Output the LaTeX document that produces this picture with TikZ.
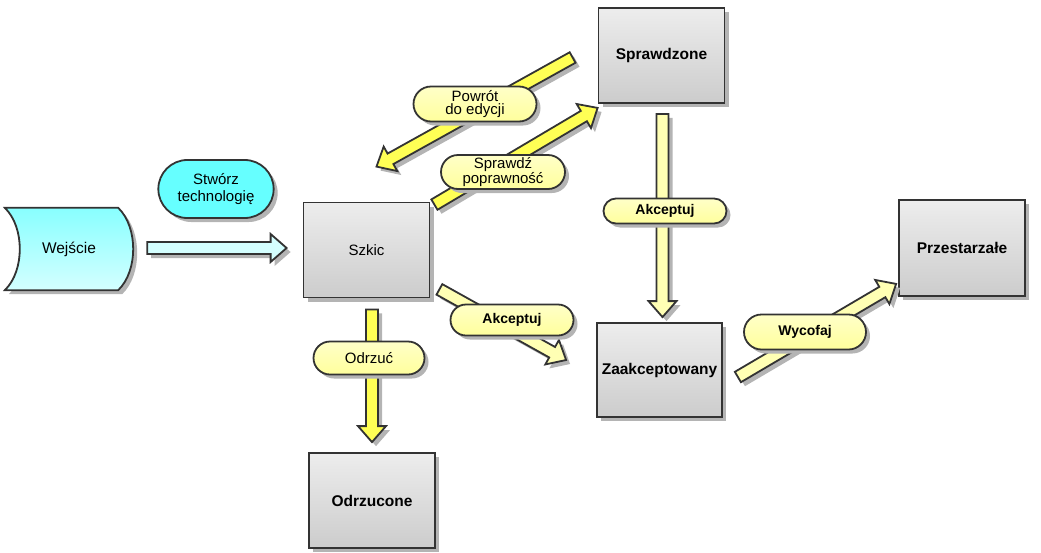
\documentclass[tikz,border=0pt]{standalone}
\usepackage{fontspec}
\setmainfont{Liberation Sans}
\usetikzlibrary{calc,shapes.misc,shadows}
\definecolor{EdgeGray}{HTML}{333333}
\definecolor{BoxTop}{HTML}{EDEDED}
\definecolor{BoxBot}{HTML}{CCCCCC}
\definecolor{CyanTop}{HTML}{88FFFF}
\definecolor{CyanBot}{HTML}{D4FFFF}
\definecolor{CyanPill}{HTML}{66FFFF}
\definecolor{LabelTop}{HTML}{FFFFC8}
\definecolor{LabelBot}{HTML}{FFFF9C}
\definecolor{ArrowBright}{HTML}{FFFF55}
\definecolor{ArrowPale}{HTML}{FFFFB4}
\definecolor{ShadowGray}{HTML}{B4B4B4}

% fat block arrow: fill, start, end
\newcommand\fatarrow[3]{%
 \coordinate (h) at ($(#3)!16pt!(#2)$);
 \draw[fat,fill=#1] ($(#2)!6pt!90:(#3)$) -- ($(h)!6pt!90:(#3)$) -- ($(h)!14pt!90:(#3)$) -- (#3)
  -- ($(h)!14pt!-90:(#3)$) -- ($(h)!6pt!-90:(#3)$) -- ($(#2)!6pt!-90:(#3)$) -- cycle;}

\begin{document}
\begin{tikzpicture}[x=1pt,y=-1pt,
 shadow/.style={drop shadow={shadow xshift=4pt,shadow yshift=-4pt,fill=ShadowGray,opacity=1}},
 state/.style={draw=EdgeGray,line width=1.8pt,top color=BoxTop,bottom color=BoxBot,shadow,
  minimum width=126pt,minimum height=95pt,align=center,font=\fontsize{15.5}{17}\selectfont\bfseries},
 tag/.style={rounded rectangle,draw=EdgeGray,line width=1.8pt,top color=LabelTop,bottom color=LabelBot,
  shadow,minimum width=125pt,inner sep=1pt,align=center,font=\fontsize{15}{13.5}\selectfont},
 fat/.style={draw=EdgeGray,line width=1.8pt,line join=miter,shadow}]
\useasboundingbox (0,0) rectangle (1041,552);

% states
\node[state,font=\fontsize{15}{17}\selectfont] (szkic) at (366.5,250) {Szkic};
\node[state] (sprw) at (661.5,55.5) {Sprawdzone};
\node[state,minimum width=125pt,minimum height=94pt] (zaak) at (659.5,370) {Zaakceptowany};
\node[state,minimum height=96pt] (przest) at (962,248) {Przestarzałe};
\node[state] (odrz) at (372,500.5) {Odrzucone};

% input
\path node[minimum width=128pt,minimum height=82pt] (wej) at (69,249) {};
\draw[draw=EdgeGray,line width=1.8pt,top color=CyanTop,bottom color=CyanBot,shadow]
 (wej.north west) .. controls ($(wej.west)+(20,-22)$) and ($(wej.west)+(20,22)$) .. (wej.south west)
 -- ($(wej.south east)+(-15,0)$) .. controls ($(wej.east)+(5,22)$) and ($(wej.east)+(5,-22)$) .. ($(wej.north east)+(-15,0)$) -- cycle;
\node[font=\fontsize{15.5}{17}\selectfont] (wejtxt) at (wej) {Wejście};
\node[rounded rectangle,draw=EdgeGray,line width=1.8pt,fill=CyanPill,shadow,minimum width=122pt,
 minimum height=58pt,align=center,font=\fontsize{15}{17.5}\selectfont] (tworz) at (216,189) {Stwórz\\technologię};

% arrow ends
\coordinate (c0) at ($(wej.east)+(14,-1)$);
\coordinate (c1) at ($(szkic.west)+(-16,-2)$);
\coordinate (p0) at ($(sprw.west)+(-25,2)$);
\coordinate (p1) at ($(szkic.north)+(10,-35)$);
\coordinate (s0) at ($(szkic.north east)+(4,3)$);
\coordinate (s1) at ($(sprw.south west)+(0,4)$);
\coordinate (a0) at ($(szkic.south east)+(9,-9)$);
\coordinate (a1) at ($(zaak.west)+(-30,-10)$);
\coordinate (o0) at ($(szkic.south)+(5.5,11)$);
\coordinate (o1) at ($(odrz.north)+(0,-10)$);
\coordinate (b0) at ($(sprw.south)+(1,10)$);
\coordinate (b1) at ($(zaak.north)+(3,-5)$);
\coordinate (w0) at ($(zaak.east)+(15,7)$);
\coordinate (w1) at ($(przest.south west)+(-2,-13)$);

% arrows
\fatarrow{CyanBot}{c0}{c1}
\foreach \a/\b in {p0/p1,s0/s1,o0/o1} \fatarrow{ArrowBright}{\a}{\b};
\foreach \a/\b in {a0/a1,b0/b1,w0/w1} \fatarrow{ArrowPale}{\a}{\b};

% labels
\node[tag,minimum height=35pt] (powrot) at (475,104) {Powrót\\do edycji};
\node[tag,minimum width=126pt,minimum height=34pt] (spr) at (503,172) {Sprawdź\\poprawność};
\node[tag,minimum height=31pt,font=\fontsize{14}{13}\selectfont\bfseries] (akc) at (512,320) {Akceptuj};
\node[tag,minimum width=113pt,minimum height=33pt] (odrzuc) at (369,358) {Odrzuć};
\node[tag,minimum height=25pt,font=\fontsize{14}{13}\selectfont\bfseries] (akc2) at (665,211) {Akceptuj};
\node[tag,minimum width=124pt,minimum height=35pt,font=\fontsize{14}{13}\selectfont\bfseries] (wycof) at (805,332) {Wycofaj};
\end{tikzpicture}
\end{document}
